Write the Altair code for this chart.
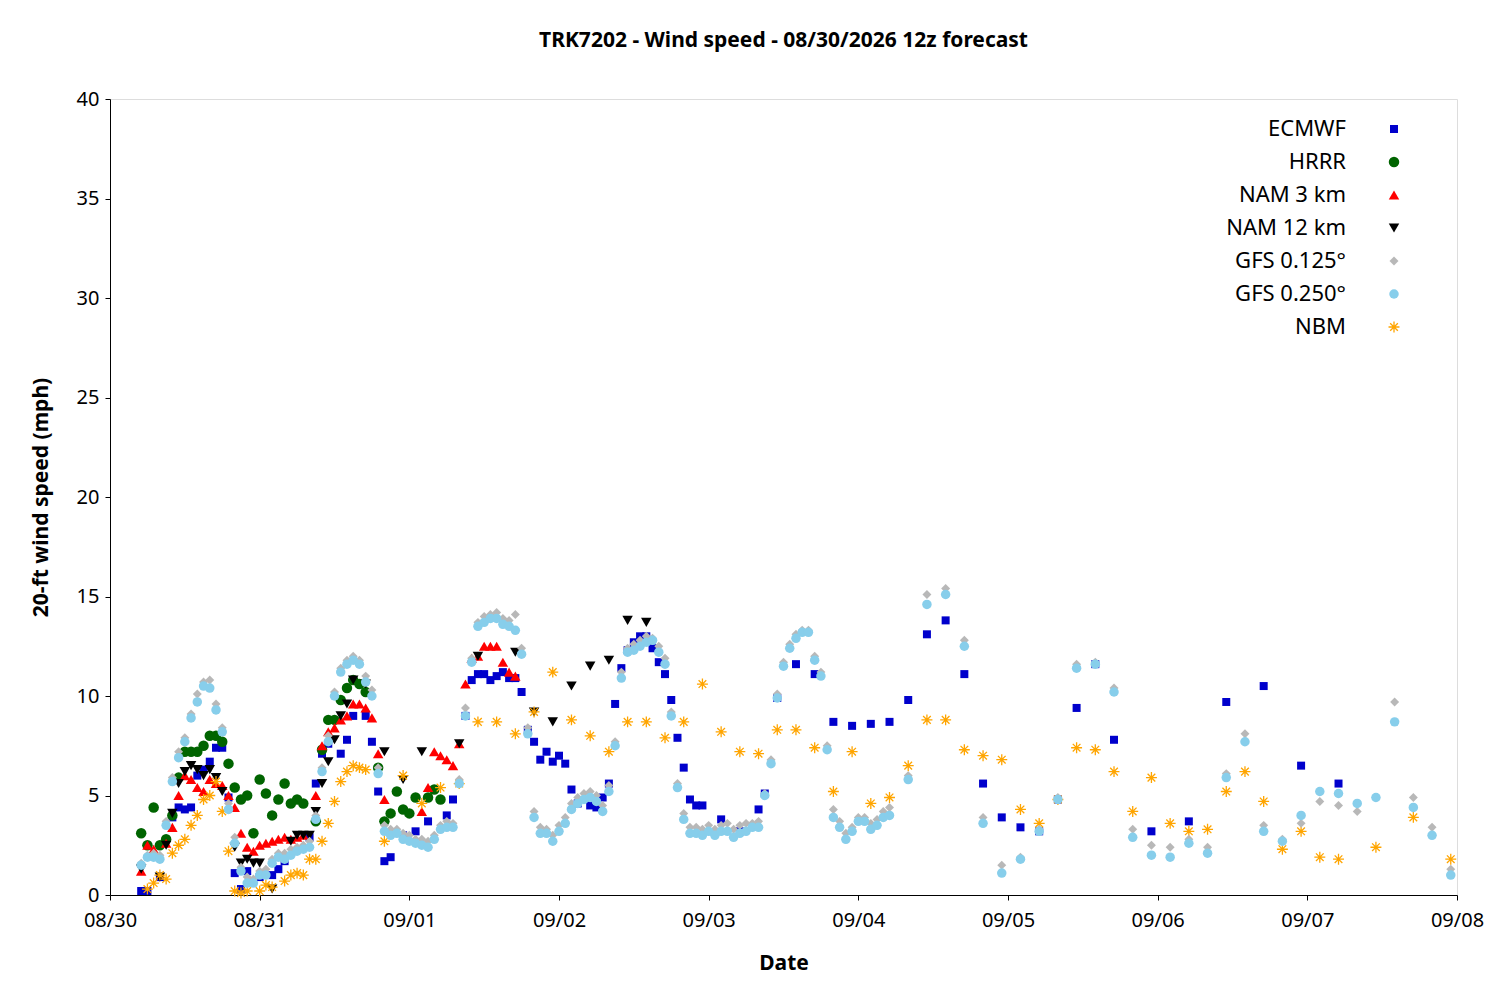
import altair as alt
import pandas as pd

START = pd.Timestamp("2026-08-30 00:00")

# GFS 0.250 : hourly hours 5..125, then 3-hourly 128..215
gfs25_hourly = [1.5,1.9,1.9,1.8,3.5,5.7,6.9,7.7,8.9,9.7,10.5,10.4,9.3,8.2,4.3,2.6,1.2,0.6,0.6,1.0,
                1.0,1.6,1.9,1.8,2.0,2.2,2.3,2.4,3.8,6.2,7.7,10.0,11.2,11.6,11.8,11.6,10.7,10.0,6.1,3.2,
                3.0,3.1,2.8,2.7,2.6,2.5,2.4,2.8,3.3,3.4,3.4,5.6,9.0,11.7,13.5,13.7,13.9,13.9,13.6,13.5,
                13.3,12.1,8.1,3.9,3.1,3.1,2.7,3.2,3.6,4.3,4.6,4.8,4.9,4.7,4.2,5.2,7.5,10.9,12.2,12.3,
                12.5,12.7,12.8,12.2,11.6,9.0,5.4,3.8,3.1,3.1,3.0,3.2,3.0,3.2,3.2,2.9,3.1,3.2,3.4,3.4,
                5.0,6.6,9.9,11.5,12.4,12.9,13.2,13.2,11.8,11.0,7.3,3.9,3.4,2.8,3.2,3.7,3.7,3.3,3.5,3.9,4.0]
gfs25_3h = [5.8,14.6,15.1,12.5,3.6,1.1,1.8,3.2,4.8,11.4,11.6,10.2,2.9,2.0,1.9,2.6,2.1,5.9,7.7,3.2,
            2.7,4.0,5.2,5.1,4.6,4.9,8.7,4.4,3.0,1.0]
gfs125_hourly = [1.6,2.0,2.1,2.0,3.7,5.9,7.2,7.9,9.1,10.1,10.7,10.8,9.6,8.4,4.6,2.9,1.4,0.9,0.8,1.2,
                 1.3,1.8,2.1,2.1,2.3,2.4,2.5,2.7,4.0,6.4,8.0,10.2,11.4,11.8,12.0,11.8,11.0,10.3,6.4,3.5,
                 3.3,3.3,3.1,3.0,2.8,2.8,2.7,3.0,3.5,3.7,3.6,5.8,9.4,11.9,13.7,14.0,14.1,14.2,13.9,13.8,
                 14.1,12.4,8.4,4.2,3.4,3.3,3.0,3.5,3.9,4.6,4.9,5.1,5.2,5.0,4.5,5.5,7.7,11.2,12.4,12.6,
                 12.8,13.0,12.9,12.5,11.9,9.2,5.6,4.1,3.4,3.4,3.3,3.5,3.3,3.5,3.6,3.3,3.5,3.6,3.6,3.7,
                 5.1,6.8,10.1,11.7,12.6,13.1,13.3,13.3,12.0,11.2,7.5,4.3,3.7,3.1,3.4,3.9,3.9,3.6,3.8,4.2,4.4]
gfs125_3h = [6.0,15.1,15.4,12.8,3.9,1.5,1.9,3.3,4.9,11.6,11.7,10.4,3.3,2.5,2.4,2.8,2.4,6.1,8.1,3.5,
             2.8,3.6,4.7,4.5,4.2,4.9,9.7,4.9,3.4,1.3]

ecmwf_h = [5,6,8,10,11,12,13,14,15,16,17,18,19,20,21,22,24,26,27,28,32,33,34,35,37,38,39,41,42,43,44,45,47,49,51,
           54,55,57,58,59,60,61,62,63,64,65,66,67,68,69,70,71,72,73,74,75,77,78,79,80,81,82,83,84,85,86,87,88,89,
           90,91,92,93,94,95,98,101,104,105,107,110,113,116,119,122,125,128,131,134,137,140,143,146,149,152,155,
           158,161,167,173,179,185,191,197]
ecmwf_v = [0.2,0.2,0.9,3.9,4.4,4.3,4.4,6.0,6.3,6.7,7.4,7.4,4.9,1.1,0.3,1.2,0.9,1.0,1.3,1.7,2.9,5.6,7.1,7.6,7.1,
           7.8,9.0,9.0,7.7,5.2,1.7,1.9,3.0,3.2,3.7,4.0,4.8,9.0,10.8,11.1,11.1,10.8,11.0,11.2,10.9,10.9,10.2,8.3,
           7.7,6.8,7.2,6.7,7.0,6.6,5.3,4.6,4.5,4.4,4.9,5.6,9.6,11.4,12.3,12.7,13.0,13.0,12.4,11.7,11.1,9.8,7.9,
           6.4,4.8,4.5,4.5,3.8,3.2,4.3,5.1,9.9,11.6,11.1,8.7,8.5,8.6,8.7,9.8,13.1,13.8,11.1,5.6,3.9,3.4,3.2,4.8,
           9.4,11.6,7.8,3.2,3.7,9.7,10.5,6.5,5.6]

hrrr_h = [5,6,7,8,9,10,11,12,13,14,15,16,17,18,19,20,21,22,23,24,25,26,27,28,29,30,31,33,34,35,36,37,38,39,40,41,
          43,44,45,46,47,48,49,51,52,53]
hrrr_v = [3.1,2.5,4.4,2.5,2.8,4.0,5.9,7.2,7.2,7.2,7.5,8.0,8.0,7.7,6.6,5.4,4.8,5.0,3.1,5.8,5.1,4.0,4.8,5.6,4.6,
          4.8,4.6,3.7,7.3,8.8,8.8,9.8,10.4,10.8,10.6,10.2,6.4,3.7,4.1,5.2,4.3,4.1,4.9,4.9,5.3,4.8]

nam3_h = [5,6,7,9,10,11,12,13,14,15,16,17,18,19,20,21,22,23,24,25,26,27,28,29,30,31,33,34,35,36,37,38,39,40,41,
          42,43,44,50,51,52,53,54,55,56,57,58,59,60,61,62,63,64,65]
nam3_v = [1.2,2.5,2.3,2.6,3.4,5.0,6.0,5.8,5.4,5.2,5.8,5.6,5.5,5.0,4.4,3.1,2.4,2.2,2.5,2.6,2.7,2.8,2.9,2.8,2.9,
          3.0,5.0,7.5,8.2,8.4,8.8,9.0,9.6,9.6,9.4,8.9,7.1,4.8,4.2,5.4,7.2,7.0,6.8,6.5,7.6,10.6,11.9,12.0,12.5,
          12.5,12.5,11.7,11.2,11.0]

nam12_h = [5,8,9,10,11,12,13,14,15,16,17,18,20,21,22,23,24,26,29,30,31,32,33,34,35,36,37,38,39,41,44,47,50,56,
           59,65,68,71,74,77,80,83,86]
nam12_v = [1.3,0.9,2.5,4.1,5.6,6.2,6.5,6.3,6.0,6.3,5.9,5.2,2.4,1.6,1.8,1.6,1.6,0.3,2.7,3.0,3.0,3.0,4.2,5.6,
           6.7,7.8,9.0,9.6,10.8,10.6,7.2,5.8,7.2,7.6,12.0,12.2,9.2,8.7,10.5,11.5,11.8,13.8,13.7]

nbm_h = [6,7,8,9,10,11,12,13,14,15,16,17,18,19,20,21,22,24,25,26,28,29,30,31,32,33,34,35,36,37,38,39,40,41,44,
         47,50,53,56,59,62,65,68,71,74,77,80,83,86,89,92,95,98,101,104,107,110,113,116,119,122,125,
         128,131,134,137,140,143,146,149,152,155,158,161,164,167,170,173,176,179,182,185,188,191,194,197,
         203,209,215]
nbm_v = [0.3,0.6,1.0,0.8,2.1,2.5,2.8,3.5,4.0,4.8,5.0,5.7,4.2,2.2,0.2,0.1,0.2,0.2,0.5,0.4,0.7,1.0,1.1,1.0,1.8,
         1.8,2.7,3.6,4.7,5.7,6.2,6.5,6.4,6.3,2.7,6.0,4.6,5.4,5.6,8.7,8.7,8.1,9.2,11.2,8.8,8.0,7.2,8.7,8.7,7.9,
         8.7,10.6,8.2,7.2,7.1,8.3,8.3,7.4,5.2,7.2,4.6,4.9,
         6.5,8.8,8.8,7.3,7.0,6.8,4.3,3.6,4.8,7.4,7.3,6.2,4.2,5.9,3.6,3.2,3.3,5.2,6.2,4.7,2.3,3.2,1.9,1.8,
         2.4,3.9,1.8]

series = ["ECMWF", "HRRR", "NAM 3 km", "NAM 12 km", "GFS 0.125°", "GFS 0.250°", "NBM"]
colors = ["#0000cc", "#006400", "#ff0000", "#000000", "#b8b8b8", "#87ceeb", "#ffa500"]
asterisk = "M-1,0L1,0M0,-1L0,1M-0.7,-0.7L0.7,0.7M-0.7,0.7L0.7,-0.7"
shapes = ["square", "circle", "triangle-up", "triangle-down", "diamond", "circle", asterisk]
sizes = [64, 110, 110, 110, 80, 90, 120]

hours_25 = list(range(5, 126)) + list(range(128, 216, 3))
data = {
    "ECMWF": (ecmwf_h, ecmwf_v),
    "HRRR": (hrrr_h, hrrr_v),
    "NAM 3 km": (nam3_h, nam3_v),
    "NAM 12 km": (nam12_h, nam12_v),
    "GFS 0.125°": (hours_25, gfs125_hourly + gfs125_3h),
    "GFS 0.250°": (hours_25, gfs25_hourly + gfs25_3h),
    "NBM": (nbm_h, nbm_v),
}

x_scale = alt.Scale(domain=[alt.DateTime(year=2026, month=8, date=30),
                            alt.DateTime(year=2026, month=9, date=8)])
y_scale = alt.Scale(domain=[0, 40])

def mk_for(i, d):
    if series[i] == "NBM":
        return alt.Chart(d).mark_point(shape=asterisk, filled=False, stroke=colors[i], strokeWidth=1.3, size=sizes[i], opacity=1)
    return alt.Chart(d).mark_point(shape=shapes[i], filled=True, color=colors[i], opacity=1, size=sizes[i])

layers = []
draw_order = ["ECMWF", "HRRR", "NAM 3 km", "NAM 12 km", "NBM", "GFS 0.125°", "GFS 0.250°"]
for name in draw_order:
    i = series.index(name)
    h, v = data[name]
    df = pd.DataFrame({"t": [START + pd.Timedelta(hours=k) for k in h], "v": v})
    layers.append(mk_for(i, df).encode(
        x=alt.X("t:T", scale=x_scale, title="Date",
                axis=alt.Axis(format="%m/%d", tickCount={"interval": "day", "step": 1}, grid=False,
                              labelFlush=False, labelFontSize=20, titleFontSize=21, titleFontWeight="bold",
                              labelFont="Noto Sans", titleFont="Noto Sans", titlePadding=22,
                              labelPadding=10, domainColor="black", tickColor="black", labelColor="black",
                              titleColor="black")),
        y=alt.Y("v:Q", scale=y_scale, title="20-ft wind speed (mph)",
                axis=alt.Axis(values=[0, 5, 10, 15, 20, 25, 30, 35, 40], grid=False,
                              labelFontSize=20, titleFontSize=21, titleFontWeight="bold",
                              labelFont="Noto Sans", titleFont="Noto Sans", titlePadding=25,
                              labelPadding=6, domainColor="black", tickColor="black", labelColor="black",
                              titleColor="black")),
    ))

# in-plot legend (label left, symbol right)
leg = pd.DataFrame({"name": series, "row": list(range(7))})
leg["py"] = [30 + 33 * r for r in leg["row"]]
for i, name in enumerate(series):
    d = leg[leg["name"] == name]
    txt = alt.Chart(d).mark_text(align="right", baseline="middle", fontSize=22, font="Noto Sans", color="black").encode(
        x=alt.value(1236), y=alt.Y("py:Q", scale=None), text="name:N")
    sym = mk_for(i, d).encode(x=alt.value(1284), y=alt.Y("py:Q", scale=None))
    layers += [txt, sym]

chart = alt.layer(*layers).properties(
    width=1347, height=796,
    title=alt.TitleParams("TRK7202 - Wind speed - 08/30/2026 12z forecast", fontSize=21, fontWeight="bold",
                          font="Noto Sans", offset=38, color="black"),
    autosize=alt.AutoSizeParams(type="none"),
    padding={"left": 102, "top": 91, "right": 35, "bottom": 97},
).configure_view(stroke="black", strokeWidth=1).configure(background="white")

chart.save("out.html", embed_options={"renderer": "svg", "actions": False})
